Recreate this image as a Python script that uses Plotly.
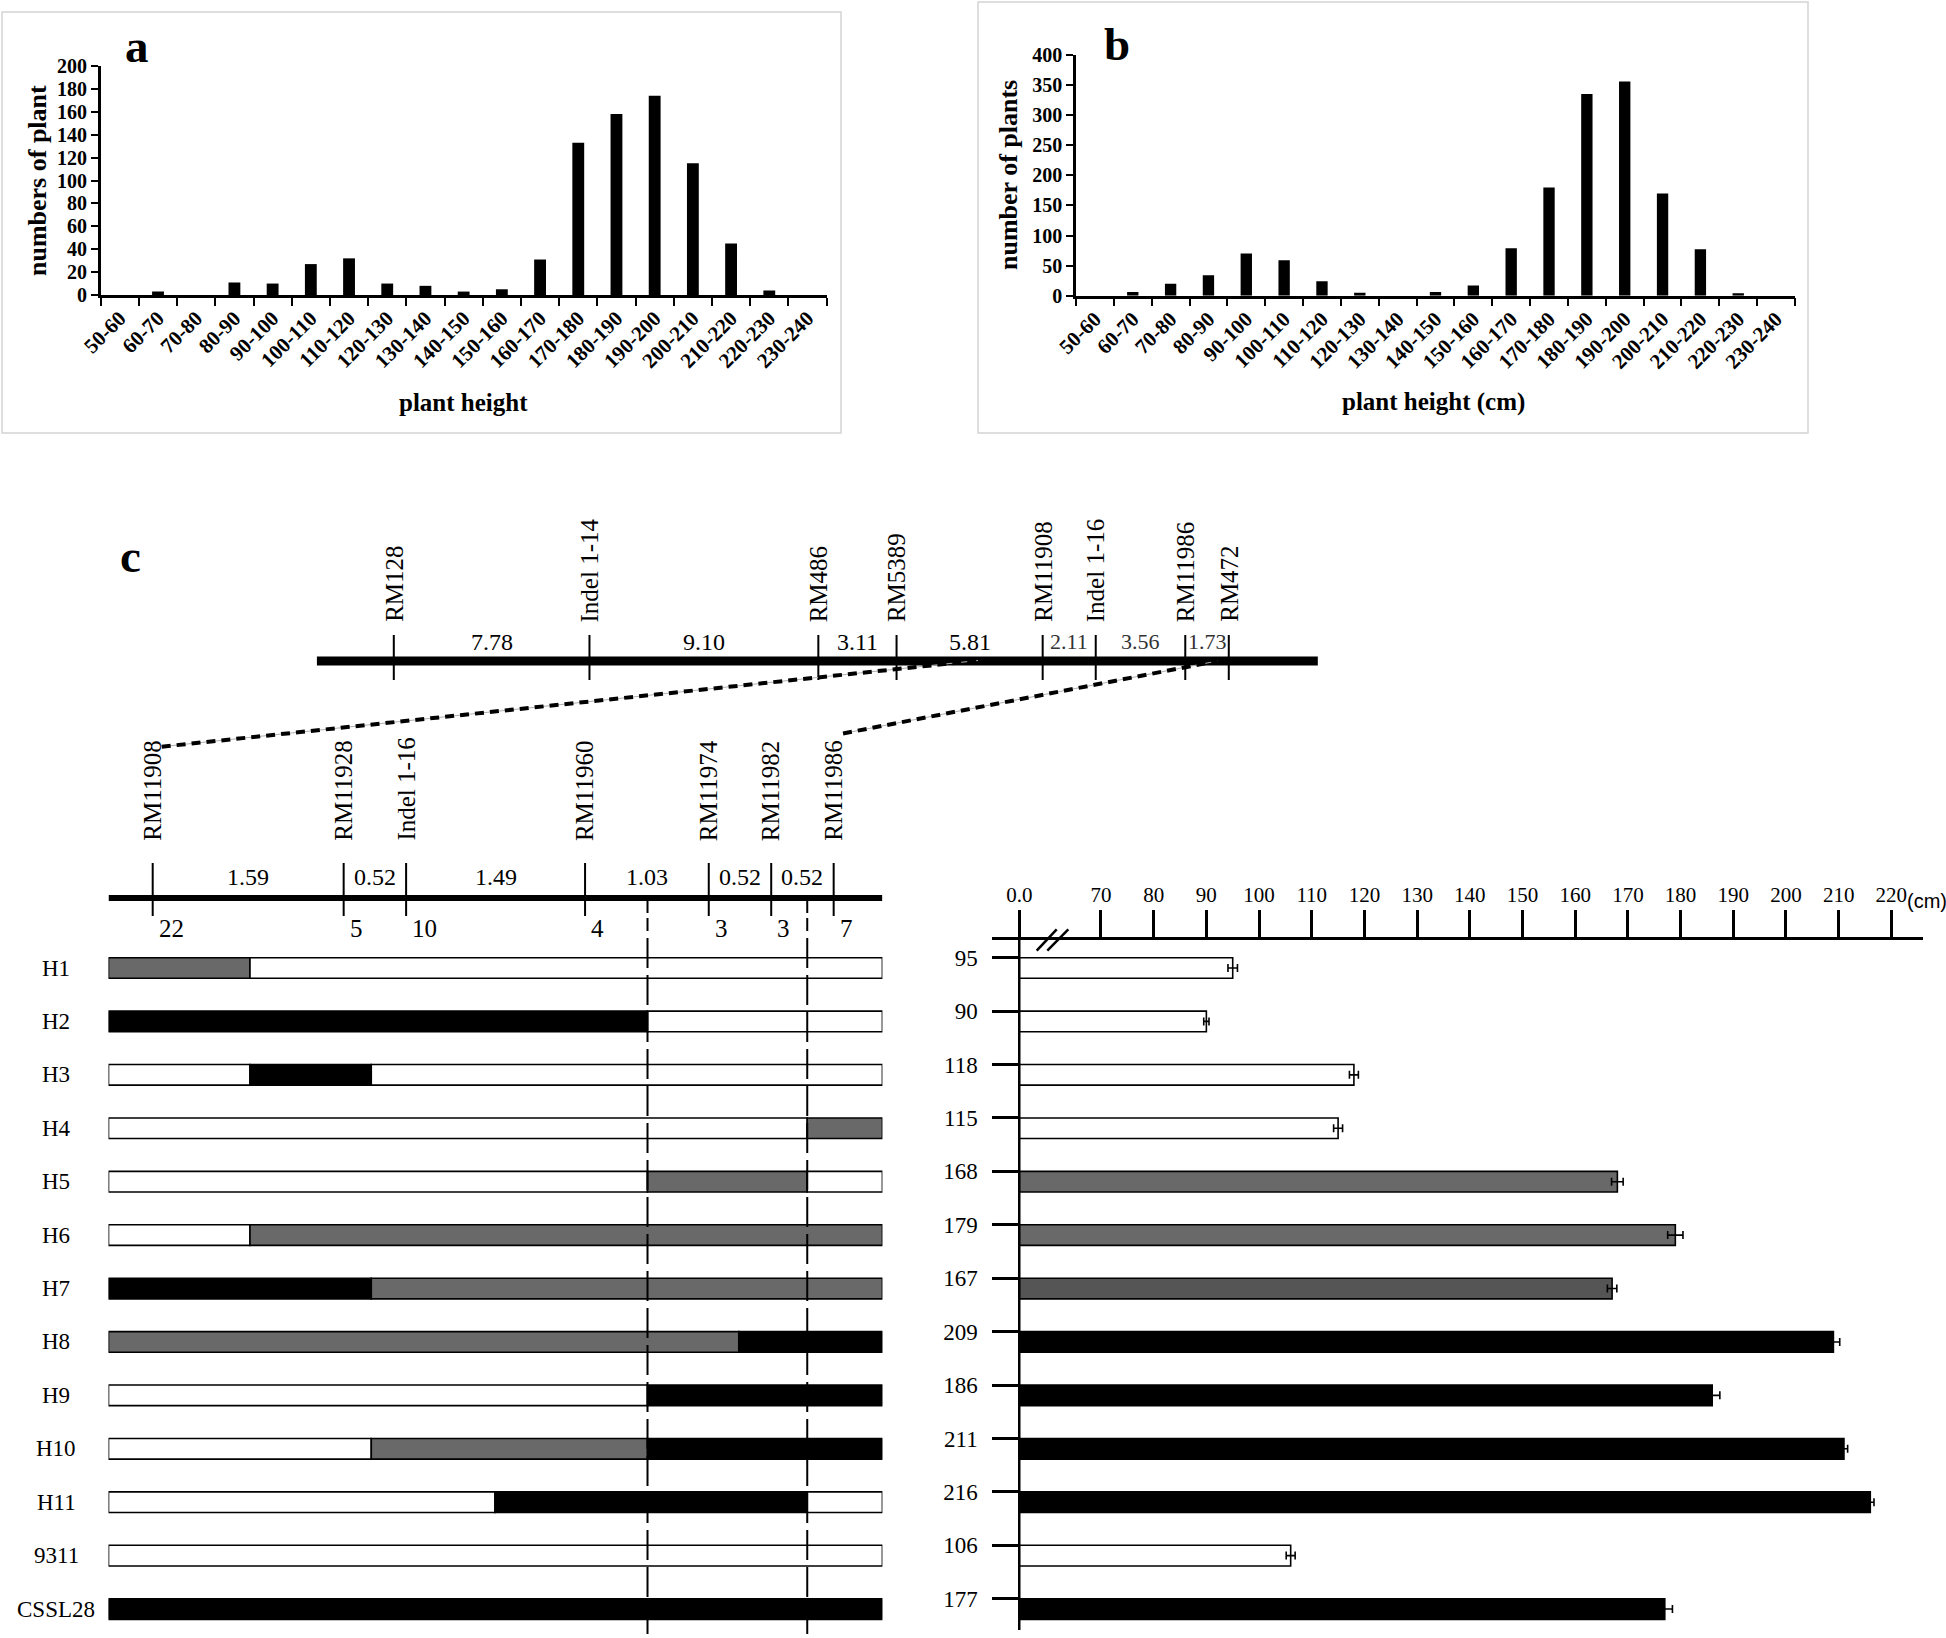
import plotly.graph_objects as go

W, H = 1946, 1638
SERIF = "Liberation Serif, Times New Roman, serif"
SANS = "Liberation Sans, Arial, sans-serif"

# ------------------------------------------------------------------ data
height_classes = ["50-60", "60-70", "70-80", "80-90", "90-100", "100-110", "110-120",
                  "120-130", "130-140", "140-150", "150-160", "160-170", "170-180",
                  "180-190", "190-200", "200-210", "210-220", "220-230", "230-240"]
counts_a = [0, 3, 0, 11, 10, 27, 32, 10, 8, 3, 5, 31, 133, 158, 174, 115, 45, 4, 0]
counts_b = [0, 6, 20, 34, 70, 59, 24, 5, 0, 6, 17, 79, 180, 335, 356, 170, 77, 4, 0]

top_markers = ["RM128", "Indel 1-14", "RM486", "RM5389", "RM11908", "Indel 1-16", "RM11986", "RM472"]
top_intervals = [7.78, 9.10, 3.11, 5.81, 2.11, 3.56, 1.73]

fine_markers = ["RM11908", "RM11928", "Indel 1-16", "RM11960", "RM11974", "RM11982", "RM11986"]
fine_intervals = [1.59, 0.52, 1.49, 1.03, 0.52, 0.52]
recombinants = [22, 5, 10, 4, 3, 3, 7]

lines = ["H1", "H2", "H3", "H4", "H5", "H6", "H7", "H8", "H9", "H10", "H11", "9311", "CSSL28"]
# breakpoints of the graphical genotypes, on the fine-map scale (from RM11908)
hap_breaks = [0.81, 1.82, 2.85, 4.12, 4.88, 5.45]
# genotype of the 7 intervals: W = 9311, B = CSSL28, G = heterozygous
genotypes = ["GWWWWWW", "BBBBWWW", "WBWWWWW", "WWWWWWG", "WWWWGGW", "WGGGGGG", "BBGGGGG",
             "GGGGGBB", "WWWWBBB", "WWGGBBB", "WWWBBBW", "WWWWWWW", "BBBBBBB"]
plant_height = [95, 90, 118, 115, 168, 179, 167, 209, 186, 211, 216, 106, 177]
height_err = [0.9, 0.5, 0.85, 0.85, 1.1, 1.45, 0.9, 1.2, 1.45, 0.7, 0.7, 0.85, 1.45]
height_class = ["W", "W", "W", "W", "G", "G", "D", "B", "B", "B", "B", "W", "B"]
height_ticks = [70, 80, 90, 100, 110, 120, 130, 140, 150, 160, 170, 180, 190, 200, 210, 220]

COL = {"W": "#ffffff", "B": "#000000", "G": "#696969", "D": "#555555"}


# ------------------------------------------------------------------ helpers
def px(p):
    return p / W


def py(p):
    return 1 - p / H


def cumsum(vals):
    out = [0.0]
    for v in vals:
        out.append(round(out[-1] + v, 4))
    return out


top_pos = cumsum(top_intervals)
fine_pos = cumsum(fine_intervals)

# axis geometry (pixel domains)
FINE_DOM = (108.5, 882.4)
FINE_RANGE = ((108.5 - 152.7) / 120.1, (882.4 - 152.7) / 120.1)
TOP_DOM = (316.7, 1317.9)
TOP_RANGE = ((316.7 - 393.8) / 25.15, (1317.9 - 393.8) / 25.15)
RIGHT_DOM = (991.7, 1923.3)
RIGHT_RANGE = (49.26, 226.06)
BREAK = 54.49
ROW_TOP, ROW_BOT = 939.95, 1635.75
ROW_RANGE = [12.5, -0.525]
BAR_W = 0.386


def axis_to_paper(u, dom, rng):
    return (dom[0] + (u - rng[0]) / (rng[1] - rng[0]) * (dom[1] - dom[0])) / W


def text(t, x, y, xref="paper", yref="paper", size=24, bold=False, angle=0, xa="center", ya="middle",
         color="black", family=SERIF, xshift=0):
    f = dict(family=family, size=size, color=color)
    if bold:
        f["weight"] = "bold"
    return dict(text=t, x=x, y=y, xref=xref, yref=yref, showarrow=False, textangle=angle,
                xanchor=xa, yanchor=ya, font=f, xshift=xshift)


fig = go.Figure()

# ------------------------------------------------------------------ panel a / b histograms
fig.add_trace(go.Bar(x=height_classes, y=counts_a, width=0.31, marker=dict(color="black", line=dict(width=0)),
                     xaxis="x", yaxis="y", showlegend=False))
fig.add_trace(go.Bar(x=height_classes, y=counts_b, width=0.30, marker=dict(color="black", line=dict(width=0)),
                     xaxis="x2", yaxis="y2", showlegend=False))

# ------------------------------------------------------------------ graphical genotypes
edges = [FINE_RANGE[0]] + hap_breaks + [FINE_RANGE[1]]
seg_y, seg_base, seg_len, seg_col = [], [], [], []
for i, g in enumerate(genotypes):
    k = 0
    while k < len(g):
        j = k
        while j + 1 < len(g) and g[j + 1] == g[k]:
            j += 1
        seg_y.append(i)
        seg_base.append(edges[k])
        seg_len.append(edges[j + 1] - edges[k])
        seg_col.append(COL[g[k]])
        k = j + 1

fig.add_trace(go.Bar(orientation="h", y=seg_y, x=seg_len, base=seg_base, width=BAR_W,
                     marker=dict(color=seg_col, line=dict(color="black", width=1.6)),
                     xaxis="x3", yaxis="y3", showlegend=False, hoverinfo="skip"))

# dummy trace for top map axis
fig.add_trace(go.Scatter(x=[top_pos[0]], y=[0], mode="markers", marker=dict(opacity=0),
                         xaxis="x4", yaxis="y4", showlegend=False, hoverinfo="skip"))

# ------------------------------------------------------------------ right bar chart
rows = list(range(len(lines)))
fig.add_trace(go.Bar(orientation="h", y=rows, x=[h - BREAK for h in plant_height], base=BREAK, width=BAR_W,
                     marker=dict(color=[COL[c] for c in height_class], line=dict(color="black", width=1.6)),
                     error_x=dict(type="data", array=height_err, color="black", thickness=1.6, width=4),
                     xaxis="x5", yaxis="y5", showlegend=False))

shapes = []
ann = []

# panel frames
shapes.append(dict(type="rect", xref="paper", yref="paper", x0=px(2), x1=px(841), y0=py(433), y1=py(12),
                   line=dict(color="#d4d4d4", width=1.5)))
shapes.append(dict(type="rect", xref="paper", yref="paper", x0=px(978), x1=px(1808), y0=py(433), y1=py(2),
                   line=dict(color="#d4d4d4", width=1.5)))

# panel letters
for t, x, y in [("a", 137, 46), ("b", 1117, 44), ("c", 130, 556)]:
    ann.append(text(t, px(x), py(y), size=47, bold=True))

# histogram axis titles
ann.append(text("numbers of plant", px(37), py(181), size=26, bold=True, angle=-90))
ann.append(text("plant height", px(463), py(402), size=25, bold=True))
ann.append(text("number of plants", px(1009), py(175), size=26, bold=True, angle=-90))
ann.append(text("plant height (cm)", px(1433), py(402), size=25, bold=True))

# ------------------------------------------------------------------ top linkage map
shapes.append(dict(type="line", xref="x4", yref="paper", x0=TOP_RANGE[0], x1=TOP_RANGE[1],
                   y0=py(661), y1=py(661), line=dict(color="black", width=9)))
for name, p in zip(top_markers, top_pos):
    shapes.append(dict(type="line", xref="x4", yref="paper", x0=p, x1=p, y0=py(680), y1=py(635),
                       line=dict(color="black", width=2)))
    ann.append(text(name, p, py(624), xref="x4", size=25, angle=-90, ya="bottom"))
for k, d in enumerate(top_intervals):
    small = k >= 4
    ann.append(text(f"{d:.2f}", (top_pos[k] + top_pos[k + 1]) / 2, py(642), xref="x4",
                    size=22 if small else 24, color="#333333" if small else "black"))

# ------------------------------------------------------------------ fine map
shapes.append(dict(type="line", xref="x3", yref="paper", x0=FINE_RANGE[0], x1=FINE_RANGE[1],
                   y0=py(898), y1=py(898), line=dict(color="black", width=6)))
for name, p, n in zip(fine_markers, fine_pos, recombinants):
    shapes.append(dict(type="line", xref="x3", yref="paper", x0=p, x1=p, y0=py(916), y1=py(863),
                       line=dict(color="black", width=2)))
    ann.append(text(name, p, py(843), xref="x3", size=25, angle=-90, ya="bottom"))
    ann.append(text(str(n), p, py(928), xref="x3", size=25, xa="left", xshift=4))
for k, d in enumerate(fine_intervals):
    ann.append(text(f"{d:.2f}", (fine_pos[k] + fine_pos[k + 1]) / 2, py(877), xref="x3", size=24))

# delimiting breakpoints of the candidate region
for b in (hap_breaks[3], hap_breaks[5]):
    shapes.append(dict(type="line", xref="x3", yref="paper", x0=b, x1=b, y0=py(913), y1=py(901),
                       line=dict(color="black", width=2)))
    shapes.append(dict(type="line", xref="x3", yref="paper", x0=b, x1=b, y0=py(1634), y1=py(918),
                       line=dict(color="black", width=2, dash="30px,7px"), layer="above"))

# connecting dashed lines (fine map -> top map)
for fu, fy, tu, ty in [(0.075, 746.7, 23.23, 660.5), (5.748, 733.5, 32.75, 661.0)]:
    x0 = axis_to_paper(fu, FINE_DOM, FINE_RANGE)
    x1 = axis_to_paper(tu, TOP_DOM, TOP_RANGE)
    shapes.append(dict(type="line", xref="paper", yref="paper", x0=x0, x1=x1, y0=py(fy), y1=py(ty),
                       line=dict(color="#b0b0b0", width=1)))
    shapes.append(dict(type="line", xref="paper", yref="paper", x0=x0, x1=x1, y0=py(fy), y1=py(ty),
                       line=dict(color="black", width=4, dash="9px,6px")))

# line names
for i, name in enumerate(lines):
    ann.append(text(name, px(56), i, yref="y3", size=23))

# ------------------------------------------------------------------ right chart extras
shapes.append(dict(type="line", xref="x5", yref="paper", x0=BREAK, x1=BREAK, y0=py(1630), y1=py(ROW_TOP),
                   line=dict(color="black", width=2.5)))
for (ax0, ay0, ax1, ay1) in [(1036.7, 950.7, 1056.7, 929.3), (1047.3, 950.7, 1068.3, 929.3)]:
    shapes.append(dict(type="line", xref="paper", yref="paper", x0=px(ax0), x1=px(ax1), y0=py(ay0), y1=py(ay1),
                       line=dict(color="black", width=2.5)))
ann.append(text("(cm)", px(1905), py(901), size=20, xa="left", family=SANS))

# ------------------------------------------------------------------ layout
hist_tick = dict(family=SERIF, size=21, color="black", weight="bold")
common_x = dict(type="category", showline=True, linecolor="black", linewidth=2.5, ticks="outside",
                tickson="boundaries", ticklen=8, tickwidth=2, tickcolor="black", tickangle=-45,
                tickfont=hist_tick, showgrid=False, zeroline=False, range=[-0.5, 18.5], dtick=1,
                fixedrange=True, automargin=False)
common_y = dict(showline=True, linecolor="black", linewidth=2.5, ticks="outside", ticklen=7, tickwidth=2,
                tickcolor="black", tickfont=dict(hist_tick, size=20), showgrid=False, zeroline=False,
                fixedrange=True, automargin=False)

row_dom = [py(ROW_BOT), py(ROW_TOP)]

fig.update_layout(
    template="none",
    width=W, height=H, autosize=False,
    margin=dict(l=0, r=0, t=0, b=0, pad=0, autoexpand=False),
    paper_bgcolor="white", plot_bgcolor="rgba(0,0,0,0)", showlegend=False, barmode="overlay",
    font=dict(family=SERIF, color="black"),
    xaxis=dict(common_x, domain=[px(100.7), px(826.6)], anchor="y"),
    yaxis=dict(common_y, domain=[py(295), py(66)], range=[0, 200], dtick=20, anchor="x"),
    xaxis2=dict(common_x, domain=[px(1076), px(1795)], anchor="y2"),
    yaxis2=dict(common_y, domain=[py(295.7), py(55)], range=[0, 400], dtick=50, anchor="x2"),
    xaxis3=dict(domain=[px(FINE_DOM[0]), px(FINE_DOM[1])], range=list(FINE_RANGE), visible=False,
                anchor="y3", fixedrange=True, automargin=False),
    yaxis3=dict(domain=row_dom, range=ROW_RANGE, visible=False, anchor="x3", fixedrange=True, automargin=False),
    xaxis4=dict(domain=[px(TOP_DOM[0]), px(TOP_DOM[1])], range=list(TOP_RANGE), visible=False,
                anchor="y4", fixedrange=True, automargin=False),
    yaxis4=dict(domain=[0.55, 0.6], range=[-1, 1], visible=False, anchor="x4", fixedrange=True,
                automargin=False),
    xaxis5=dict(domain=[px(RIGHT_DOM[0]), px(RIGHT_DOM[1])], range=list(RIGHT_RANGE), side="top",
                anchor="y5", showline=True, linecolor="black", linewidth=2.5, ticks="outside",
                ticklen=27, tickwidth=2.5, tickcolor="black", tickmode="array",
                tickvals=[BREAK] + height_ticks, ticktext=["0.0"] + [str(v) for v in height_ticks],
                tickfont=dict(family=SERIF, size=21, color="black"), showgrid=False, zeroline=False,
                fixedrange=True, automargin=False),
    yaxis5=dict(domain=row_dom, range=ROW_RANGE, anchor="x5", showline=False, ticks="inside",
                ticklen=27.6, tickwidth=2.5, tickcolor="black", tickmode="array",
                tickvals=[r - BAR_W / 2 for r in rows], ticktext=[str(h) for h in plant_height],
                tickfont=dict(family=SERIF, size=23, color="black"), ticklabelstandoff=13,
                showgrid=False, zeroline=False, fixedrange=True, automargin=False),
    shapes=shapes,
    annotations=ann,
)

fig.write_html("out.html", config={"displayModeBar": False},
               post_script="document.body.style.margin='0px';document.body.style.overflow='hidden';")
